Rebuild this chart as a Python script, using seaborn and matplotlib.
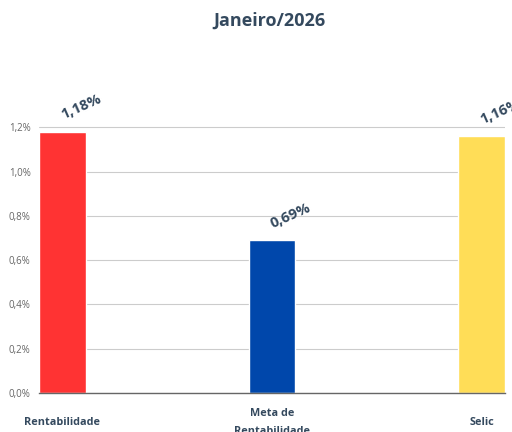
import matplotlib
matplotlib.use("Agg")
import matplotlib.pyplot as plt
import seaborn as sns
import pandas as pd

# Dados do gráfico
categorias = ["Rentabilidade", "Meta de\nRentabilidade", "Selic"]
valores = [1.18, 0.69, 1.16]
cores = ["#FF3333", "#0047AB", "#FFDD57"]
rotulos_y = ["0,0%", "0,2%", "0,4%", "0,6%", "0,8%", "1,0%", "1,2%"]
ticks_y = [0.0, 0.2, 0.4, 0.6, 0.8, 1.0, 1.2]

sns.set_style("white")
plt.rcParams["font.family"] = ["Open Sans", "DejaVu Sans"]

df = pd.DataFrame({"categoria": categorias, "valor": valores})

fig = plt.figure(figsize=(5.12, 4.32), dpi=100)
ax = fig.add_axes([0.0762, 0.0903, 0.91, 0.717])

ax.grid(axis="y", color="#cccccc", linewidth=0.8)
ax.set_axisbelow(True)

sns.barplot(data=df, x="categoria", y="valor", hue="categoria",
            palette=cores, width=0.224, saturation=1, legend=False, ax=ax)

ax.set_xlim(-0.112, 2.112)
ax.set_ylim(0, 1.4)
ax.set_yticks(ticks_y)
ax.set_yticklabels(rotulos_y, color="#666666", fontsize=7)
ax.tick_params(axis="y", length=0, pad=6)
ax.tick_params(axis="x", length=0, pad=21)
for lbl in ax.get_xticklabels():
    lbl.set_va("center")
    lbl.set_fontweight("bold")
    lbl.set_fontsize(7.8)
    lbl.set_color("#34495e")
    lbl.set_linespacing(1.9)

ax.set_xlabel("")
ax.set_ylabel("")
for s in ["top", "right", "left"]:
    ax.spines[s].set_visible(False)
ax.spines["bottom"].set_color("#666666")
ax.spines["bottom"].set_linewidth(1)

# Rótulos de valor acima das barras
for i, v in enumerate(valores):
    ax.annotate(f"{v:.2f}%".replace(".", ","), xy=(i, v), xytext=(1.5, 7),
                textcoords="offset points", ha="left", va="bottom",
                rotation=24, rotation_mode="anchor", fontsize=10.5,
                fontweight="bold", color="#34495e", annotation_clip=False)

fig.suptitle("Janeiro/2026", x=0.527, y=0.972, fontsize=13, fontweight="bold", color="#34495e")

fig.savefig("out.png", dpi=100)
